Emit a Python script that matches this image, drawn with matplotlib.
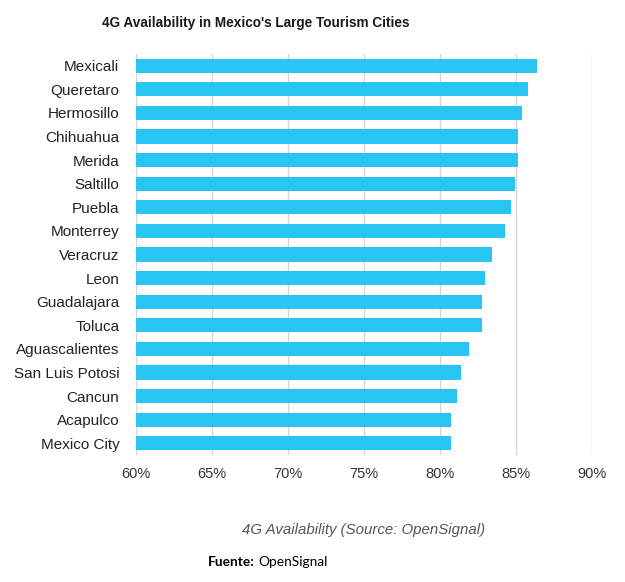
import matplotlib.pyplot as plt
from matplotlib.ticker import FuncFormatter

cities = ["Mexicali", "Queretaro", "Hermosillo", "Chihuahua", "Merida", "Saltillo",
          "Puebla", "Monterrey", "Veracruz", "Leon", "Guadalajara", "Toluca",
          "Aguascalientes", "San Luis Potosi", "Cancun", "Acapulco", "Mexico City"]
availability = [86.35, 85.8, 85.4, 85.15, 85.15, 84.95, 84.65, 84.3, 83.4, 82.95,
                82.75, 82.75, 81.9, 81.4, 81.1, 80.7, 80.7]
xticks = [60, 65, 70, 75, 80, 85, 90]

plt.rcParams['font.family'] = ['Liberation Sans', 'DejaVu Sans']

fig = plt.figure(figsize=(6.25, 5.82), dpi=100)
W, H = 625, 582
ax = fig.add_axes([136 / W, 1 - 455 / H, (592 - 136) / W, (455 - 54) / H])

ypos = list(range(len(cities)))
ax.barh(ypos, [v - 60 for v in availability], left=60, height=0.6,
        color="#29C5F2", zorder=3)
ax.set_xlim(60, 90)
ax.set_ylim(len(cities) - 0.5, -0.5)
ax.set_yticks(ypos)
ax.set_yticklabels(cities, fontsize=11, color="#222222")
ax.set_xticks(xticks)
ax.xaxis.set_major_formatter(FuncFormatter(lambda v, p: f"{v:.0f}%"))
ax.tick_params(axis="x", labelsize=10.5, labelcolor="#333333", length=0, pad=9)
ax.tick_params(axis="y", length=0, pad=12)
ax.grid(axis="x", color="#d6d6d6", linewidth=1, zorder=0)
for s in ax.spines.values():
    s.set_visible(False)

ax.set_xlabel("4G Availability (Source: OpenSignal)", fontsize=10.8,
              style="italic", color="#555555", labelpad=30)

fig.text(256 / W, 1 - 23 / H, "4G Availability in Mexico's Large Tourism Cities",
         ha="center", va="center", fontsize=9.8, fontweight="bold", color="#1a1a1a")

fig.text(208 / W, 1 - 562 / H, "Fuente:", ha="left", va="center", fontsize=9.9,
         fontweight="bold", family=["Lato", "DejaVu Sans"], color="black")
fig.text(258 / W, 1 - 562 / H, "OpenSignal", ha="left", va="center", fontsize=9.9,
         family=["Lato", "DejaVu Sans"], color="black")

fig.savefig("out.png", dpi=100)
